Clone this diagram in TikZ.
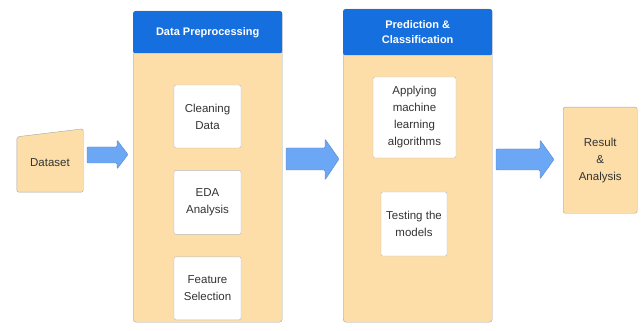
\documentclass[tikz,border=0pt]{standalone}
\usepackage{fontspec}
\setmainfont{Liberation Sans}
\usetikzlibrary{positioning}
\definecolor{boxorange}{RGB}{253,221,168}
\definecolor{headblue}{RGB}{22,111,222}
\definecolor{arrowblue}{RGB}{108,167,245}
\definecolor{textgray}{RGB}{51,51,51}
\tikzset{
  panel/.style = {draw=gray!70, fill=boxorange, rounded corners=3pt, minimum width=149pt, anchor=north west, inner sep=0pt},
  header/.style = {fill=headblue, rounded corners=2pt, minimum width=149pt, anchor=north west, inner sep=0pt,
                   text=white, align=center, font=\fontsize{11}{15}\selectfont\bfseries},
  stepbox/.style = {draw=gray!55, fill=white, rounded corners=2pt, align=center, inner sep=0pt, text=textgray,
                    font=\fontsize{11.5}{17}\selectfont},
  blockarrow/.style = {draw=arrowblue!80!black, fill=arrowblue, rounded corners=1pt, line join=round},
}

\begin{document}
\begin{tikzpicture}[x=1pt, y=-1pt]
  \useasboundingbox (0,0) rectangle (642,331);

  % input
  \node[minimum width=66pt, minimum height=63pt, inner sep=0pt] (dataset) at (50,160.5) {};
  \filldraw[draw=gray!70, fill=boxorange, rounded corners=2pt]
    (dataset.south west) -- ([yshift=-8pt]dataset.north west) -- (dataset.north east) -- (dataset.south east) -- cycle;
  \node[text=textgray, font=\fontsize{11.5}{17}\selectfont] (datasettext) at ([yshift=-2.5pt]dataset.center) {Dataset};

  % data preprocessing panel
  \node[panel, minimum height=311pt] (prep) at (133,11) {};
  \node[header, minimum height=42pt] (prephead) at (133,11) {Data Preprocessing};
  \node[stepbox, minimum width=67pt, minimum height=63pt] (clean) at (207.5,116.5) {Cleaning\\Data};
  \node[stepbox, minimum width=67pt, minimum height=64pt, below=22pt of clean] (eda) {EDA\\Analysis};
  \node[stepbox, minimum width=67pt, minimum height=63pt, below=22pt of eda] (feature) {Feature\\Selection};

  % prediction panel
  \node[panel, minimum height=313pt] (pred) at (343,9) {};
  \node[header, minimum height=46pt] (predhead) at (343,9) {Prediction \&\\Classification};
  \node[stepbox, minimum width=83pt, minimum height=81pt] (apply) at (414.5,117.5) {Applying\\machine\\learning\\algorithms};
  \node[stepbox, minimum width=66pt, minimum height=64pt] (testing) at (414,224) {Testing the\\models};

  % output
  \node[panel, draw=gray!70, minimum width=74pt, minimum height=106pt, align=center, text=textgray,
        font=\fontsize{11.5}{17}\selectfont, rounded corners=2pt] (result) at (563,107) {Result\\\&\\Analysis};

  % block arrows
  \filldraw[blockarrow] (87,147) -- (117,147) -- (117,140) -- (128,154.5) -- (117,169) -- (117,163) -- (87,163) -- cycle;
  \filldraw[blockarrow] (286,148) -- (325,148) -- (325,139) -- (339,159) -- (325,180) -- (325,170) -- (286,170) -- cycle;
  \filldraw[blockarrow] (496,149) -- (540,149) -- (540,140) -- (554,159.5) -- (540,179) -- (540,170) -- (496,170) -- cycle;
\end{tikzpicture}
\end{document}
